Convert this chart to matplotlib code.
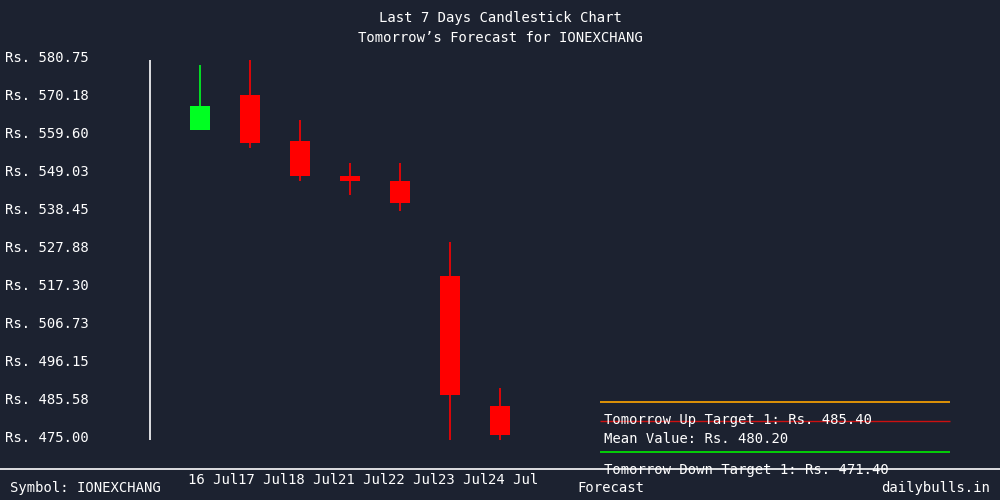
import matplotlib
matplotlib.use("Agg")
import matplotlib.pyplot as plt
from matplotlib.patches import Rectangle

BG = "#1c2230"
FONT = "DejaVu Sans Mono"

dates = ["16 Jul", "17 Jul", "18 Jul", "21 Jul", "22 Jul", "23 Jul", "24 Jul"]
opens = [560.7, 570.5, 557.7, 548.0, 546.6, 520.1, 483.9]
closes = [567.4, 557.1, 548.0, 546.6, 540.5, 486.9, 475.8]
highs = [578.8, 580.2, 563.5, 551.5, 551.5, 529.5, 488.9]
lows = [560.7, 555.7, 546.6, 542.6, 538.3, 474.4, 474.4]
ytick_vals = [580.75, 570.18, 559.60, 549.03, 538.45, 527.88, 517.30, 506.73, 496.15, 485.58, 475.00]
symbol = "IONEXCHANG"
targets = ["Tomorrow Up Target 1: Rs. 485.40", "Mean Value: Rs. 480.20",
           "Tomorrow Down Target 1: Rs. 471.40"]

fig = plt.figure(figsize=(10, 5), dpi=100, facecolor=BG)

# price axes spanning full figure; price -> pixel mapping matches reference
ax = fig.add_axes([0, 0, 1, 1], facecolor="none")
ax.set_xlim(-4, 16)
ax.set_ylim(457.74, 596.9)
ax.axis("off")
for i, (o, c, h, l) in enumerate(zip(opens, closes, highs, lows)):
    col = "#00ff22" if c >= o else "#ff0000"
    ax.vlines(i, l, h, color=col, lw=1.2)
    ax.add_patch(Rectangle((i - 0.2, min(o, c)), 0.4, abs(c - o), color=col, lw=0))
    ax.text(i + 0.26, 463.2, dates[i], color="white", fontsize=10, family=FONT,
            ha="center", va="center")
for v in ytick_vals:
    ax.text(-3.9, v, f"Rs. {v:.2f}", color="white", fontsize=10, family=FONT,
            va="center", ha="left")
ax.vlines(-1, 474.4, 580.2, color="white", lw=1.2)

# pixel overlay for decorations
ov = fig.add_axes([0, 0, 1, 1], facecolor="none")
ov.set_xlim(0, 1000)
ov.set_ylim(500, 0)
ov.axis("off")
ov.text(500, 18, "Last 7 Days Candlestick Chart", color="white", fontsize=10,
        family=FONT, ha="center", va="center")
ov.text(500, 38, f"Tomorrow\u2019s Forecast for {symbol}", color="white", fontsize=10,
        family=FONT, ha="center", va="center")
ov.hlines(402, 600, 950, color="#ffa500", lw=1.2)
ov.hlines(452, 600, 950, color="#00ee00", lw=1.2)
ov.text(604, 420, targets[0], color="white", fontsize=10, family=FONT, va="center")
ov.hlines(421, 600, 950, color="#cc1111", lw=1)
ov.text(604, 439, targets[1], color="white", fontsize=10, family=FONT, va="center")
ov.text(604, 470, targets[2], color="white", fontsize=10, family=FONT, va="center")
ov.hlines(469, 0, 1000, color="white", lw=1.2)
ov.text(10, 488, f"Symbol: {symbol}", color="white", fontsize=10, family=FONT, va="center")
ov.text(611, 488, "Forecast", color="white", fontsize=10, family=FONT, va="center", ha="center")
ov.text(990, 488, "dailybulls.in", color="white", fontsize=10, family=FONT, va="center", ha="right")

fig.savefig("out.png", dpi=100, facecolor=BG)
